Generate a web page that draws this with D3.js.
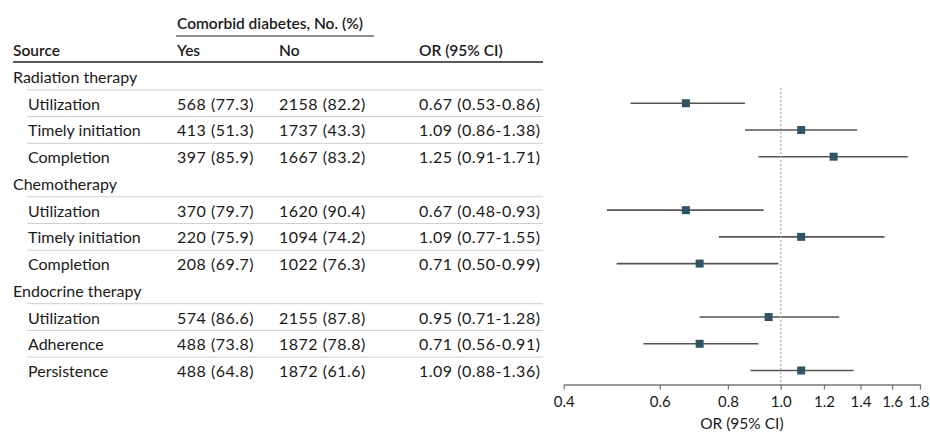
<!DOCTYPE html>
<html>
<head>
<meta charset="utf-8">
<script src="https://cdn.jsdelivr.net/npm/d3@7"></script>
<style>
  body { margin: 0; background: #fff; }
  svg text { font-family: Lato, "Open Sans", sans-serif; fill: #1a1a1a; }
</style>
</head>
<body>
<div id="forest"></div>
<script>
// table / plot data
const groups = ["Radiation therapy", "Chemotherapy", "Endocrine therapy"];
const measures = ["Utilization", "Timely initiation", "Completion",
                  "Utilization", "Timely initiation", "Completion",
                  "Utilization", "Adherence", "Persistence"];
const groupIndex = [0, 0, 0, 1, 1, 1, 2, 2, 2];
const yesCounts = [568, 413, 397, 370, 220, 208, 574, 488, 488];
const yesPct = [77.3, 51.3, 85.9, 79.7, 75.9, 69.7, 86.6, 73.8, 64.8];
const noCounts = [2158, 1737, 1667, 1620, 1094, 1022, 2155, 1872, 1872];
const noPct = [82.2, 43.3, 83.2, 90.4, 74.2, 76.3, 87.8, 78.8, 61.6];
const orValues = [0.67, 1.09, 1.25, 0.67, 1.09, 0.71, 0.95, 0.71, 1.09];
const ciLow = [0.53, 0.86, 0.91, 0.48, 0.77, 0.50, 0.71, 0.56, 0.88];
const ciHigh = [0.86, 1.38, 1.71, 0.93, 1.55, 0.99, 1.28, 0.91, 1.36];
const axisTicks = [0.4, 0.6, 0.8, 1.0, 1.2, 1.4, 1.6, 1.8];

const width = 930, height = 432;
const fontSize = 16;       // body text
const headSize = 15.5;     // bold header text
const numSpacing = 0.5;    // numbers in the reference are a bit wider

// build the row list: a group header followed by its measures
let rows = [];
groups.forEach((g, gi) => {
    rows.push({ type: "group", label: g });
    measures.forEach((m, i) => {
        if (groupIndex[i] !== gi) return;
        rows.push({ type: "item", label: m, i: i });
    });
});

let svg = d3.select("#forest")
    .append("svg")
    .attr("width", width)
    .attr("height", height);

// row position scale
let y = d3.scaleLinear()
    .domain([0, rows.length - 1])
    .range([76.5, 370.5]);
const step = y(1) - y(0);

// log scale for the odds ratios
let x = d3.scaleLog()
    .domain([0.4, 1.8])
    .range([563.7, 920]);

const col = { source: 13, sub: 28, yes: 177, no: 279, or: 419, tableEnd: 543 };

// header
svg.append("text")
    .attr("x", col.yes).attr("y", 23)
    .attr("dominant-baseline", "central")
    .attr("font-size", headSize).attr("font-weight", 600)
    .text("Comorbid diabetes, No. (%)");
svg.append("line")
    .attr("x1", 176).attr("x2", 374).attr("y1", 36).attr("y2", 36)
    .attr("stroke", "#222").attr("stroke-width", 1);

const headers = [["Source", col.source], ["Yes", col.yes], ["No", col.no], ["OR (95% CI)", col.or]];
svg.selectAll(".hdr")
    .data(headers)
    .enter()
    .append("text")
    .attr("class", "hdr")
    .attr("x", d => d[1]).attr("y", 50)
    .attr("dominant-baseline", "central")
    .attr("font-size", headSize).attr("font-weight", 600)
    .text(d => d[0]);

svg.append("line")
    .attr("x1", col.source).attr("x2", col.tableEnd).attr("y1", 62).attr("y2", 62)
    .attr("stroke", "#222").attr("stroke-width", 1.3);

// light separators above each measure row
svg.selectAll(".sep")
    .data(rows.map((r, k) => ({ r, k })).filter(d => d.r.type === "item"))
    .enter()
    .append("line")
    .attr("class", "sep")
    .attr("x1", 27).attr("x2", col.tableEnd)
    .attr("y1", d => y(d.k) - step / 2).attr("y2", d => y(d.k) - step / 2)
    .attr("stroke", "#cfcfcf").attr("stroke-width", 1);

// row labels
let rowG = svg.selectAll(".row")
    .data(rows)
    .enter()
    .append("g")
    .attr("class", "row")
    .attr("transform", (d, k) => `translate(0, ${y(k)})`);

rowG.append("text")
    .attr("x", d => d.type === "group" ? col.source : col.sub)
    .attr("dominant-baseline", "central")
    .attr("font-size", fontSize)
    .text(d => d.label);

let items = rowG.filter(d => d.type === "item");
items.append("text")
    .attr("x", col.yes)
    .attr("dominant-baseline", "central")
    .attr("font-size", fontSize)
    .attr("letter-spacing", numSpacing)
    .text(d => `${yesCounts[d.i]} (${yesPct[d.i].toFixed(1)})`);
items.append("text")
    .attr("x", col.no)
    .attr("dominant-baseline", "central")
    .attr("font-size", fontSize)
    .attr("letter-spacing", numSpacing)
    .text(d => `${noCounts[d.i]} (${noPct[d.i].toFixed(1)})`);
items.append("text")
    .attr("x", col.or)
    .attr("dominant-baseline", "central")
    .attr("font-size", fontSize)
    .attr("letter-spacing", numSpacing)
    .text(d => `${orValues[d.i].toFixed(2)} (${ciLow[d.i].toFixed(2)}-${ciHigh[d.i].toFixed(2)})`);

// reference line at OR = 1
const axisY = 384.5;
svg.append("line")
    .attr("x1", x(1)).attr("x2", x(1))
    .attr("y1", 88).attr("y2", axisY)
    .attr("stroke", "#aaa").attr("stroke-width", 1.2)
    .attr("stroke-dasharray", "2,2");

// confidence intervals and point estimates
items.append("line")
    .attr("x1", d => x(ciLow[d.i])).attr("x2", d => x(ciHigh[d.i]))
    .attr("stroke", "#555").attr("stroke-width", 1.6);

const sq = 8;
items.append("rect")
    .attr("x", d => x(orValues[d.i]) - sq / 2)
    .attr("y", -sq / 2)
    .attr("width", sq).attr("height", sq)
    .attr("fill", "#2d5563");

// x axis
let axis = svg.append("g")
    .attr("transform", `translate(0, ${axisY})`)
    .call(d3.axisBottom(x)
        .tickValues(axisTicks)
        .tickFormat(d3.format(".1f"))
        .tickSize(5)
        .tickSizeOuter(0)
        .tickPadding(7));
axis.select(".domain").attr("stroke", "#777").attr("stroke-width", 1.3);
axis.selectAll(".tick line").attr("stroke", "#777").attr("stroke-width", 1.3);
axis.selectAll(".tick text")
    .attr("font-size", 15)
    .attr("font-family", "Lato, sans-serif")
    .attr("fill", "#1a1a1a");
// keep the last label inside the page edge
axis.selectAll(".tick text")
    .filter(d => d === axisTicks[axisTicks.length - 1])
    .attr("dx", -1.5);

svg.append("text")
    .attr("x", (x.range()[0] + x.range()[1]) / 2)
    .attr("y", 429)
    .attr("text-anchor", "middle")
    .attr("font-size", 15.5)
    .text("OR (95% CI)");
</script>
</body>
</html>
